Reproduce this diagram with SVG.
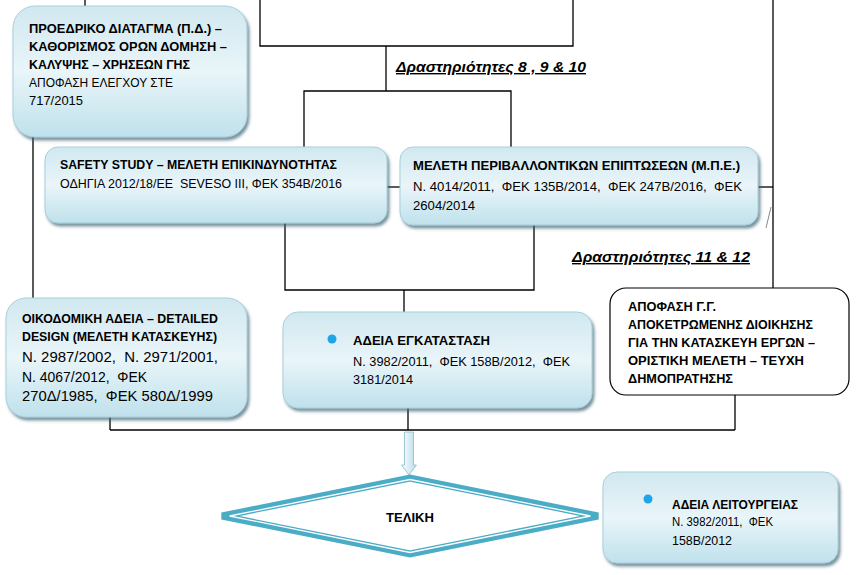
<svg xmlns="http://www.w3.org/2000/svg" width="862" height="575" viewBox="0 0 862 575">
<defs>
<linearGradient id="g" x1="0" y1="0" x2="0" y2="1">
<stop offset="0" stop-color="#d1e8f0"/>
<stop offset="0.5" stop-color="#e9f5f9"/>
<stop offset="1" stop-color="#bfe1ec"/>
</linearGradient>
<linearGradient id="ga" x1="0" y1="0" x2="1" y2="0">
<stop offset="0" stop-color="#ffffff"/>
<stop offset="1" stop-color="#b9dbe7"/>
</linearGradient>
<filter id="sh" x="-10%" y="-10%" width="125%" height="135%">
<feDropShadow dx="2" dy="3" stdDeviation="1.8" flood-color="#3f6676" flood-opacity="0.7"/>
</filter>
</defs>
<style>
.box{fill:url(#g);stroke:#a7cfdb;stroke-width:1;filter:url(#sh)}
.wbox{fill:#fff;stroke:#000;stroke-width:1.2}
.ln{fill:none;stroke:#000;stroke-width:1.3}
text{font-family:"Liberation Sans",Arial,sans-serif;fill:#000}
.b{font-weight:bold;font-size:12.5px}
.n{font-size:13.3px}
.n14{font-size:14.5px}
.act{font-weight:bold;font-style:italic;font-size:14px;text-decoration:underline}
.dot{fill:#1ea5e6}
</style>
<rect width="862" height="575" fill="#fff"/>
<g id="connectors">
<path class="ln" d="M85 0V6"/>
<path class="ln" d="M260 0V46H573V0"/>
<path class="ln" d="M386 46V91"/>
<path class="ln" d="M304 147V91H511V147"/>
<path class="ln" d="M33 137V298"/>
<path class="ln" d="M387 187H400"/>
<path class="ln" d="M758 187H773"/>
<path class="ln" d="M773 0V288"/>
<path fill="none" stroke="#8a8a8a" stroke-width="1" d="M771 207L766 228"/>
<path class="ln" d="M285 223V290H534V225"/>
<path class="ln" d="M404 290V312"/>
<path class="ln" d="M110 417V430"/>
<path class="ln" d="M408 408V430"/>
<path class="ln" d="M735 395V430"/>
<path class="ln" d="M110 430H735"/>
<path d="M404.5 432H413.5V465H416.5L409 475L401.5 465H404.5Z" fill="url(#ga)" stroke="#9cc6d6" stroke-width="1"/>
</g>
<g id="n-pd">
<rect class="box" x="13" y="6" width="234" height="131" rx="22"/>
<text class="b" x="29" y="33" textLength="193" lengthAdjust="spacingAndGlyphs">ΠΡΟΕΔΡΙΚΟ ΔΙΑΤΑΓΜΑ (Π.Δ.) –</text>
<text class="b" x="29" y="51" textLength="198" lengthAdjust="spacingAndGlyphs">ΚΑΘΟΡΙΣΜΟΣ ΟΡΩΝ ΔΟΜΗΣΗ –</text>
<text class="b" x="29" y="69" textLength="161" lengthAdjust="spacingAndGlyphs">ΚΑΛΥΨΗΣ – ΧΡΗΣΕΩΝ ΓΗΣ</text>
<text class="n" x="29" y="87" textLength="144" lengthAdjust="spacingAndGlyphs">ΑΠΟΦΑΣΗ ΕΛΕΓΧΟΥ ΣΤΕ</text>
<text class="n" x="29" y="105" textLength="54" lengthAdjust="spacingAndGlyphs">717/2015</text>
</g>
<g id="lbl-8-9-10">
<text class="act" x="396" y="72" textLength="190" lengthAdjust="spacingAndGlyphs">Δραστηριότητες 8 , 9 &amp; 10</text>
</g>
<g id="n-safety">
<rect class="box" x="45" y="147" width="342" height="76" rx="13"/>
<text class="b" x="60" y="169" textLength="277" lengthAdjust="spacingAndGlyphs">SAFETY STUDY – ΜΕΛΕΤΗ ΕΠΙΚΙΝΔΥΝΟΤΗΤΑΣ</text>
<text class="n" x="60" y="188" xml:space="preserve" textLength="282" lengthAdjust="spacingAndGlyphs">ΟΔΗΓΙΑ 2012/18/ΕΕ  SEVESO III, ΦΕΚ 354Β/2016</text>
</g>
<g id="n-mpe">
<rect class="box" x="400" y="147" width="358" height="78" rx="13"/>
<text class="b" x="413" y="170" textLength="327" lengthAdjust="spacingAndGlyphs">ΜΕΛΕΤΗ ΠΕΡΙΒΑΛΛΟΝΤΙΚΩΝ ΕΠΙΠΤΩΣΕΩΝ (Μ.Π.Ε.)</text>
<text class="n" x="413" y="191" xml:space="preserve" textLength="329" lengthAdjust="spacingAndGlyphs">Ν. 4014/2011,  ΦΕΚ 135Β/2014,  ΦΕΚ 247Β/2016,  ΦΕΚ</text>
<text class="n" x="413" y="210" textLength="62" lengthAdjust="spacingAndGlyphs">2604/2014</text>
</g>
<g id="lbl-11-12">
<text class="act" x="572" y="262" textLength="178" lengthAdjust="spacingAndGlyphs">Δραστηριότητες 11 &amp; 12</text>
</g>
<g id="n-oikodomiki">
<rect class="box" x="6" y="298" width="241" height="119" rx="20"/>
<text class="b" x="22" y="323" textLength="196" lengthAdjust="spacingAndGlyphs">ΟΙΚΟΔΟΜΙΚΗ ΑΔΕΙΑ – DETAILED</text>
<text class="b" x="22" y="341" textLength="195" lengthAdjust="spacingAndGlyphs">DESIGN (ΜΕΛΕΤΗ ΚΑΤΑΣΚΕΥΗΣ)</text>
<text class="n14" x="22" y="362" xml:space="preserve" textLength="196" lengthAdjust="spacingAndGlyphs">Ν. 2987/2002,  Ν. 2971/2001,</text>
<text class="n14" x="22" y="382" xml:space="preserve" textLength="125" lengthAdjust="spacingAndGlyphs">Ν. 4067/2012,  ΦΕΚ</text>
<text class="n14" x="22" y="401" xml:space="preserve" textLength="191" lengthAdjust="spacingAndGlyphs">270Δ/1985,  ΦΕΚ 580Δ/1999</text>
</g>
<g id="n-egkatastasi">
<rect class="box" x="283" y="312" width="309" height="96" rx="15"/>
<circle class="dot" cx="332" cy="339" r="4.5"/>
<text class="b" x="353" y="345" textLength="137" lengthAdjust="spacingAndGlyphs">ΑΔΕΙΑ ΕΓΚΑΤΑΣΤΑΣΗ</text>
<text class="n" x="353" y="366" xml:space="preserve" textLength="217" lengthAdjust="spacingAndGlyphs">Ν. 3982/2011,  ΦΕΚ 158Β/2012,  ΦΕΚ</text>
<text class="n" x="353" y="384" textLength="60" lengthAdjust="spacingAndGlyphs">3181/2014</text>
</g>
<g id="n-apofasi">
<rect class="wbox" x="610" y="288" width="239" height="107" rx="16"/>
<text class="b" x="628" y="311" textLength="88" lengthAdjust="spacingAndGlyphs">ΑΠΟΦΑΣΗ Γ.Γ.</text>
<text class="b" x="628" y="329" textLength="185" lengthAdjust="spacingAndGlyphs">ΑΠΟΚΕΤΡΩΜΕΝΗΣ ΔΙΟΙΚΗΣΗΣ</text>
<text class="b" x="628" y="347" textLength="187" lengthAdjust="spacingAndGlyphs">ΓΙΑ ΤΗΝ ΚΑΤΑΣΚΕΥΗ ΕΡΓΩΝ –</text>
<text class="b" x="628" y="365" textLength="176" lengthAdjust="spacingAndGlyphs">ΟΡΙΣΤΙΚΗ ΜΕΛΕΤΗ – ΤΕΥΧΗ</text>
<text class="b" x="628" y="383" textLength="105" lengthAdjust="spacingAndGlyphs">ΔΗΜΟΠΡΑΤΗΣΗΣ</text>
</g>
<g id="n-teliki">
<polygon points="222,516 410,478 598,516 410,554" fill="#fff" stroke="#4bacc6" stroke-width="7" stroke-linejoin="miter"/>
<polygon points="229.6,516 410,479.5 590.4,516 410,552.5" fill="none" stroke="#fff" stroke-width="1.3"/>
<text class="b" x="410" y="522" text-anchor="middle" style="font-size:13.5px" textLength="48" lengthAdjust="spacingAndGlyphs">ΤΕΛΙΚΗ</text>
</g>
<g id="n-leitourgia">
<rect class="box" x="603" y="472" width="235" height="91" rx="14"/>
<circle class="dot" cx="648" cy="499" r="4.5"/>
<text class="b" x="672" y="509" textLength="126" lengthAdjust="spacingAndGlyphs">ΑΔΕΙΑ ΛΕΙΤΟΥΡΓΕΙΑΣ</text>
<text class="n" x="672" y="526" xml:space="preserve" textLength="101" lengthAdjust="spacingAndGlyphs">Ν. 3982/2011,  ΦΕΚ</text>
<text class="n" x="672" y="545" textLength="60" lengthAdjust="spacingAndGlyphs">158Β/2012</text>
</g>
</svg>
